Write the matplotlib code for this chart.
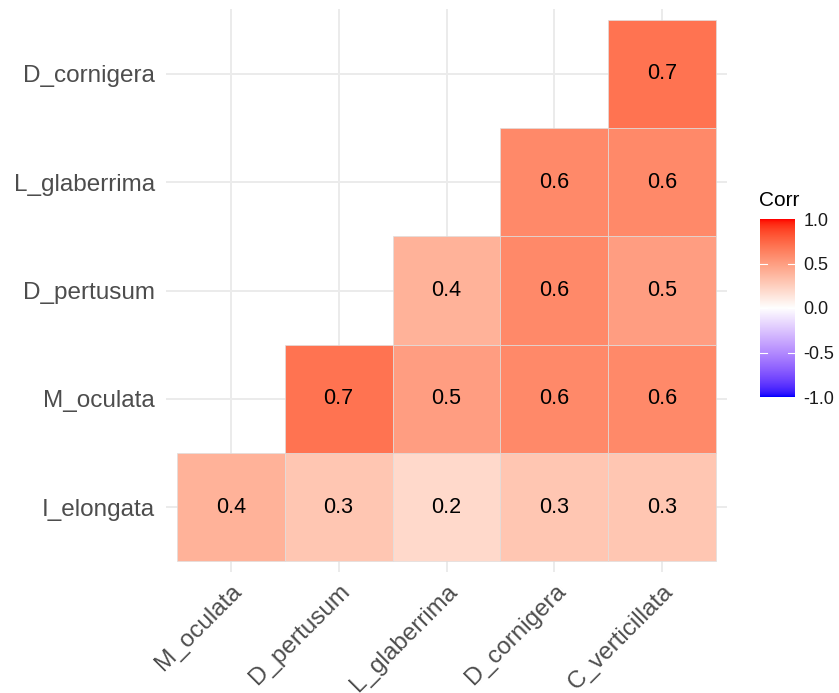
import numpy as np
import matplotlib
matplotlib.use("Agg")
import matplotlib.pyplot as plt
from matplotlib.colors import ListedColormap, Normalize

plt.rcParams['font.family'] = ['Liberation Sans', 'DejaVu Sans']

# Species order (rows bottom -> top, columns left -> right)
row_labels = ["I_elongata", "M_oculata", "D_pertusum", "L_glaberrima", "D_cornigera"]
col_labels = ["M_oculata", "D_pertusum", "L_glaberrima", "D_cornigera", "C_verticillata"]

# Correlation coefficients, one list per row (None = hidden half of the matrix)
corr_I_elongata   = [0.4, 0.3, 0.2, 0.3, 0.3]
corr_M_oculata    = [None, 0.7, 0.5, 0.6, 0.6]
corr_D_pertusum   = [None, None, 0.4, 0.6, 0.5]
corr_L_glaberrima = [None, None, None, 0.6, 0.6]
corr_D_cornigera  = [None, None, None, None, 0.7]

legend_ticks = [1.0, 0.5, 0.0, -0.5, -1.0]


# --- diverging blue-white-red palette interpolated in CIE Lab ---------------
def _srgb_to_lab(rgb):
    rgb = np.asarray(rgb, float)
    lin = np.where(rgb <= 0.04045, rgb / 12.92, ((rgb + 0.055) / 1.055) ** 2.4)
    M = np.array([[0.4124564, 0.3575761, 0.1804375],
                  [0.2126729, 0.7151522, 0.0721750],
                  [0.0193339, 0.1191920, 0.9503041]])
    xyz = M @ lin
    white = np.array([0.95047, 1.0, 1.08883])
    t = xyz / white
    eps = 216 / 24389
    kappa = 24389 / 27
    f = np.where(t > eps, np.cbrt(t), (kappa * t + 16) / 116)
    return np.array([116 * f[1] - 16, 500 * (f[0] - f[1]), 200 * (f[1] - f[2])])


def _lab_to_srgb(lab):
    L, a, b = lab
    fy = (L + 16) / 116
    fx = fy + a / 500
    fz = fy - b / 200
    eps = 216 / 24389
    kappa = 24389 / 27

    def finv(f):
        return f ** 3 if f ** 3 > eps else (116 * f - 16) / kappa

    white = np.array([0.95047, 1.0, 1.08883])
    xyz = np.array([finv(fx), (fy ** 3 if L > kappa * eps else L / kappa), finv(fz)]) * white
    Minv = np.array([[3.2404542, -1.5371385, -0.4985314],
                     [-0.9692660, 1.8760108, 0.0415560],
                     [0.0556434, -0.2040259, 1.0572252]])
    lin = Minv @ xyz
    lin = np.clip(lin, 0, 1)
    rgb = np.where(lin <= 0.0031308, 12.92 * lin, 1.055 * lin ** (1 / 2.4) - 0.055)
    return np.clip(rgb, 0, 1)


lab_low = _srgb_to_lab([0, 0, 1])
lab_mid = _srgb_to_lab([1, 1, 1])
lab_high = _srgb_to_lab([1, 0, 0])
colors = []
for v in np.linspace(-1, 1, 512):
    if v < 0:
        lab = lab_mid + (lab_low - lab_mid) * (-v)
    else:
        lab = lab_mid + (lab_high - lab_mid) * v
    colors.append(_lab_to_srgb(lab))
cmap = ListedColormap(colors)
norm = Normalize(vmin=-1, vmax=1)

# --- figure ------------------------------------------------------------------
W, H = 839, 693
fig = plt.figure(figsize=(W / 100, H / 100), dpi=100)
ax = fig.add_axes([166 / W, (H - 572) / H, (727 - 166) / W, (572 - 9) / H])

rows = [corr_I_elongata, corr_M_oculata, corr_D_pertusum, corr_L_glaberrima, corr_D_cornigera]
nx, ny = len(col_labels), len(row_labels)

# one square tile per coefficient, coloured through the shared scale
for i, r in enumerate(rows):
    for j, v in enumerate(r):
        if v is None:
            continue
        ax.bar(j, 1.0, bottom=i - 0.5, width=1.0, color=cmap(norm(v)),
               edgecolor='#DEDEDE', linewidth=0.5, zorder=2)
        ax.text(j, i, f"{v:.1f}", ha='center', va='center',
                fontsize=15.5, color='black', zorder=3)

ax.set_xlim(-0.6, nx - 0.4)
ax.set_ylim(-0.6, ny - 0.4)
ax.set_xticks(np.arange(nx))
ax.set_yticks(np.arange(ny))
ax.set_xticklabels(col_labels, rotation=45, ha='right', va='top',
                   rotation_mode='anchor', fontsize=17.5, color='#4D4D4D')
ax.set_yticklabels(row_labels, fontsize=17.5, color='#4D4D4D')
ax.tick_params(axis='both', length=0)
ax.tick_params(axis='x', pad=6)
ax.tick_params(axis='y', pad=8)
ax.set_axisbelow(True)
ax.grid(True, color='#EBEBEB', linewidth=1.4)
for s in ax.spines.values():
    s.set_visible(False)

# --- colour bar legend ---------------------------------------------------------
cax = fig.add_axes([760 / W, (H - 397) / H, 35 / W, 178 / H])
grad = np.linspace(-1, 1, 300).reshape(-1, 1)
cax.imshow(grad, cmap=cmap, norm=norm, aspect='auto', origin='lower',
           extent=[0, 1, -1, 1])
for t in [-0.5, 0.0, 0.5]:
    cax.plot([0, 0.2], [t, t], color='white', lw=0.8)
    cax.plot([0.8, 1], [t, t], color='white', lw=0.8)
cax.set_xlim(0, 1)
cax.set_ylim(-1, 1)
cax.set_xticks([])
cax.yaxis.tick_right()
cax.set_yticks(legend_ticks)
cax.set_yticklabels([f"{t:.1f}" for t in legend_ticks], fontsize=13, color='#1A1A1A')
cax.tick_params(axis='y', length=0, pad=6)
for s in cax.spines.values():
    s.set_visible(False)
fig.text(759 / W, (H - 200) / H, "Corr", fontsize=15, color='black',
         ha='left', va='center')

fig.savefig("out.png", dpi=100, facecolor='white')
